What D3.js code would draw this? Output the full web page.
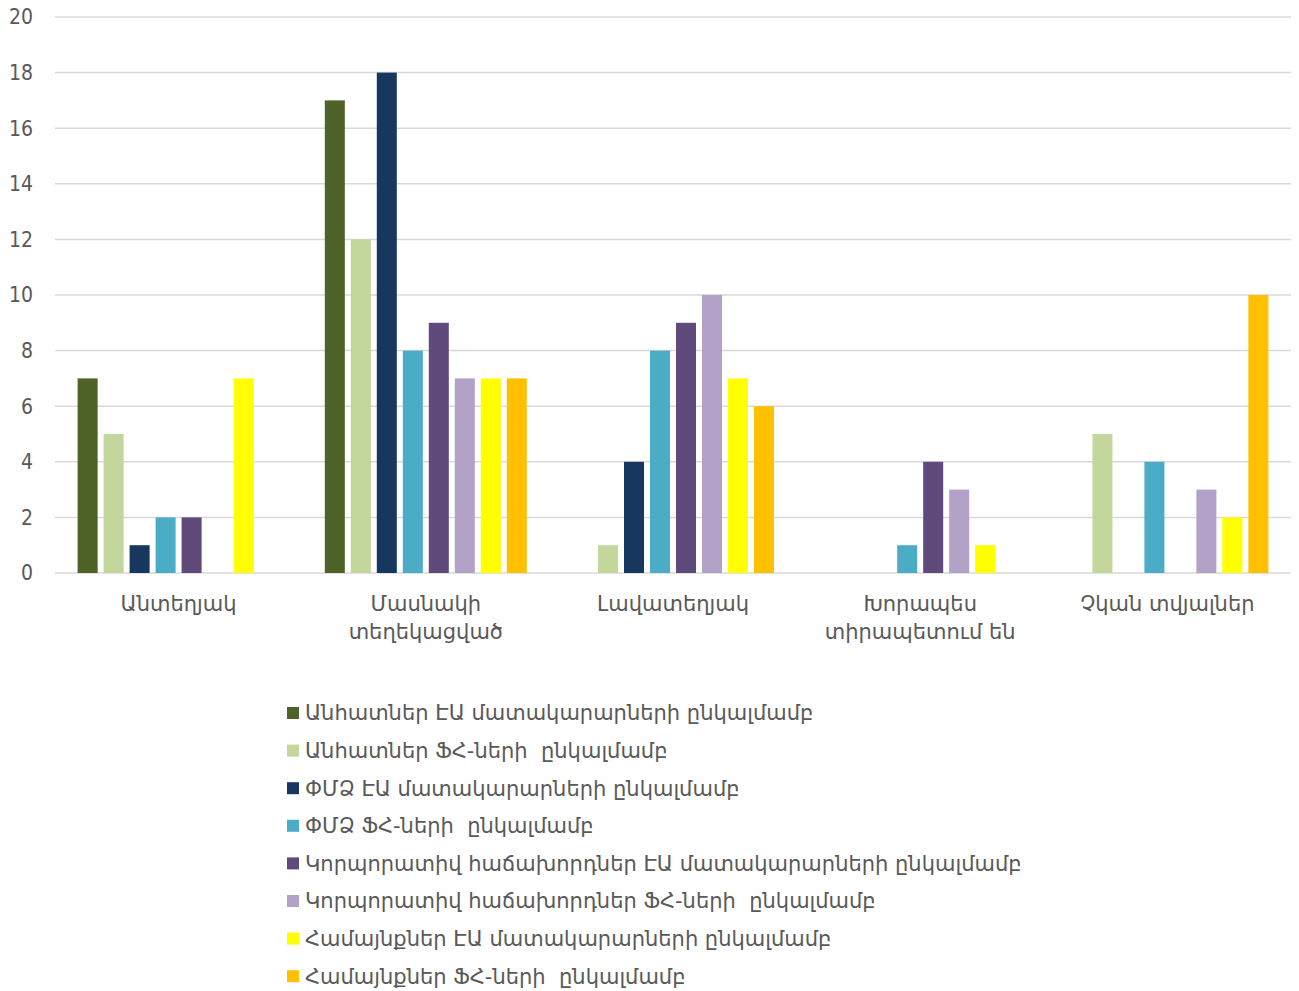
<!DOCTYPE html>
<html>
<head>
<meta charset="utf-8">
<script src="https://cdn.jsdelivr.net/npm/d3@7"></script>
<style>
  body { margin: 0; background: #fff; }
  text { font-family: "DejaVu Sans", sans-serif; fill: #595959; white-space: pre; }
  text.tick { font-family: "DejaVu Sans Condensed", "DejaVu Sans", sans-serif; }
</style>
</head>
<body>
<svg id="chart" width="1299" height="991"></svg>
<script>
const categories = [
  ["Անտեղյակ"],
  ["Մասնակի", "տեղեկացված"],
  ["Լավատեղյակ"],
  ["Խորապես", "տիրապետում են"],
  ["Չկան տվյալներ"]
];

const seriesNames = [
  "Անհատներ ԷԱ մատակարարների ընկալմամբ",
  "Անհատներ ՖՀ-ների  ընկալմամբ",
  "ՓՄՁ ԷԱ մատակարարների ընկալմամբ",
  "ՓՄՁ ՖՀ-ների  ընկալմամբ",
  "Կորպորատիվ հաճախորդներ ԷԱ մատակարարների ընկալմամբ",
  "Կորպորատիվ հաճախորդներ ՖՀ-ների  ընկալմամբ",
  "Համայնքներ ԷԱ մատակարարների ընկալմամբ",
  "Համայնքներ ՖՀ-ների  ընկալմամբ"
];

const seriesColors = ["#4F6228", "#C3D69B", "#17375E", "#4BACC6", "#604A7B", "#B3A2C7", "#FFFF00", "#FFC000"];

// values per series, one per category
const values = [
  [7, 17, 0, 0, 0],
  [5, 12, 1, 0, 5],
  [1, 18, 4, 0, 0],
  [2, 8, 8, 1, 4],
  [2, 9, 9, 4, 0],
  [0, 7, 10, 3, 3],
  [7, 7, 7, 1, 2],
  [0, 7, 6, 0, 10]
];

const yTicks = [0, 2, 4, 6, 8, 10, 12, 14, 16, 18, 20];

const margin = { top: 17, right: 8, bottom: 418, left: 55 };
const width = 1299, height = 991;
const svg = d3.select("#chart");

const x0 = d3.scaleBand()
  .domain(d3.range(categories.length))
  .range([margin.left, width - margin.right])
  .padding(0);

const x1 = d3.scaleBand()
  .domain(d3.range(seriesNames.length))
  .range([0, x0.bandwidth()])
  .paddingInner(0.23)
  .paddingOuter(0.87);

const y = d3.scaleLinear()
  .domain([0, 20])
  .range([height - margin.bottom, margin.top]);

// gridlines
svg.append("g")
  .selectAll("line")
  .data(yTicks)
  .join("line")
    .attr("x1", margin.left)
    .attr("x2", width - margin.right)
    .attr("y1", d => y(d))
    .attr("y2", d => y(d))
    .attr("stroke", "#d9d9d9")
    .attr("stroke-width", 1.5);

// y tick labels
svg.append("g")
  .selectAll("text")
  .data(yTicks)
  .join("text")
    .attr("class", "tick")
    .attr("x", 33)
    .attr("y", d => y(d))
    .attr("dy", "0.35em")
    .attr("text-anchor", "end")
    .style("font-size", "21px")
    .text(d => d);

// bars
const groups = svg.append("g")
  .selectAll("g")
  .data(seriesNames.map((name, i) => ({ i, vals: values[i] })))
  .join("g")
    .attr("fill", d => seriesColors[d.i]);

groups.selectAll("rect")
  .data(d => d.vals.map((v, c) => ({ s: d.i, c, v })).filter(e => e.v > 0))
  .join("rect")
    .attr("x", d => x0(d.c) + x1(d.s))
    .attr("width", x1.bandwidth())
    .attr("y", d => y(d.v))
    .attr("height", d => y(0) - y(d.v));

// category labels
const catG = svg.append("g")
  .selectAll("text")
  .data(categories)
  .join("text")
    .attr("x", (d, i) => x0(i) + x0.bandwidth() / 2)
    .attr("y", 611)
    .attr("text-anchor", "middle")
    .style("font-size", "21px");

catG.selectAll("tspan")
  .data(d => d)
  .join("tspan")
    .attr("x", function() { return this.parentNode.getAttribute("x"); })
    .attr("dy", (d, i) => i === 0 ? 0 : 28)
    .text(d => d);

// legend
const legend = svg.append("g")
  .selectAll("g")
  .data(seriesNames)
  .join("g")
    .attr("transform", (d, i) => `translate(287, ${713 + i * 37.6})`);

legend.append("rect")
  .attr("x", 0)
  .attr("y", -6)
  .attr("width", 12)
  .attr("height", 12)
  .attr("fill", (d, i) => seriesColors[i]);

legend.append("text")
  .attr("x", 18)
  .attr("dy", "0.35em")
  .style("font-size", "21px")
  .text(d => d);
</script>
</body>
</html>
